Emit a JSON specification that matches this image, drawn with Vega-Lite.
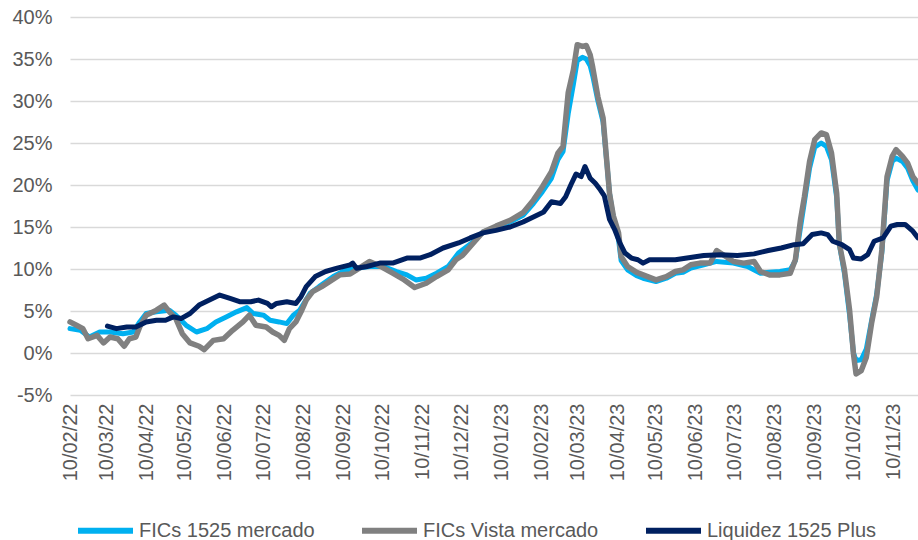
{
  "$schema": "https://vega.github.io/schema/vega-lite/v6.json",
  "width": 848,
  "height": 378,
  "autosize": {"type": "none"},
  "padding": {"left": 70, "top": 17, "right": 0, "bottom": 145},
  "background": "white",
  "config": {
    "view": {"stroke": null},
    "font": "Liberation Sans",
    "axis": {"labelFont": "Liberation Sans", "labelColor": "#595959", "labelFontSize": 20}
  },
  "datasets": {
    "a": [
      {"date": "2022-02-10", "series": "FICs 1525 mercado", "value": 2.9},
      {"date": "2022-02-18", "series": "FICs 1525 mercado", "value": 2.7},
      {"date": "2022-02-25", "series": "FICs 1525 mercado", "value": 1.9},
      {"date": "2022-03-05", "series": "FICs 1525 mercado", "value": 2.5},
      {"date": "2022-03-13", "series": "FICs 1525 mercado", "value": 2.5},
      {"date": "2022-03-23", "series": "FICs 1525 mercado", "value": 2.3},
      {"date": "2022-03-31", "series": "FICs 1525 mercado", "value": 2.5},
      {"date": "2022-04-05", "series": "FICs 1525 mercado", "value": 3.7},
      {"date": "2022-04-10", "series": "FICs 1525 mercado", "value": 4.7},
      {"date": "2022-04-18", "series": "FICs 1525 mercado", "value": 4.9},
      {"date": "2022-04-28", "series": "FICs 1525 mercado", "value": 5.1},
      {"date": "2022-05-03", "series": "FICs 1525 mercado", "value": 4.5},
      {"date": "2022-05-11", "series": "FICs 1525 mercado", "value": 3.3},
      {"date": "2022-05-19", "series": "FICs 1525 mercado", "value": 2.5},
      {"date": "2022-05-27", "series": "FICs 1525 mercado", "value": 2.9},
      {"date": "2022-06-03", "series": "FICs 1525 mercado", "value": 3.7},
      {"date": "2022-06-11", "series": "FICs 1525 mercado", "value": 4.3},
      {"date": "2022-06-19", "series": "FICs 1525 mercado", "value": 4.9},
      {"date": "2022-06-27", "series": "FICs 1525 mercado", "value": 5.4},
      {"date": "2022-07-02", "series": "FICs 1525 mercado", "value": 4.7},
      {"date": "2022-07-10", "series": "FICs 1525 mercado", "value": 4.5},
      {"date": "2022-07-15", "series": "FICs 1525 mercado", "value": 3.9},
      {"date": "2022-07-22", "series": "FICs 1525 mercado", "value": 3.7},
      {"date": "2022-07-28", "series": "FICs 1525 mercado", "value": 3.5},
      {"date": "2022-08-02", "series": "FICs 1525 mercado", "value": 4.5},
      {"date": "2022-08-07", "series": "FICs 1525 mercado", "value": 5.1},
      {"date": "2022-08-15", "series": "FICs 1525 mercado", "value": 7.1},
      {"date": "2022-08-22", "series": "FICs 1525 mercado", "value": 7.9},
      {"date": "2022-09-02", "series": "FICs 1525 mercado", "value": 9.1},
      {"date": "2022-09-12", "series": "FICs 1525 mercado", "value": 9.9},
      {"date": "2022-09-20", "series": "FICs 1525 mercado", "value": 10.1},
      {"date": "2022-09-30", "series": "FICs 1525 mercado", "value": 10.3},
      {"date": "2022-10-11", "series": "FICs 1525 mercado", "value": 10.3},
      {"date": "2022-10-21", "series": "FICs 1525 mercado", "value": 9.7},
      {"date": "2022-10-29", "series": "FICs 1525 mercado", "value": 9.3},
      {"date": "2022-11-05", "series": "FICs 1525 mercado", "value": 8.7},
      {"date": "2022-11-13", "series": "FICs 1525 mercado", "value": 8.9},
      {"date": "2022-11-21", "series": "FICs 1525 mercado", "value": 9.5},
      {"date": "2022-11-30", "series": "FICs 1525 mercado", "value": 10.3},
      {"date": "2022-12-08", "series": "FICs 1525 mercado", "value": 11.9},
      {"date": "2022-12-19", "series": "FICs 1525 mercado", "value": 13.2},
      {"date": "2022-12-27", "series": "FICs 1525 mercado", "value": 14.4},
      {"date": "2023-01-06", "series": "FICs 1525 mercado", "value": 15.0},
      {"date": "2023-01-17", "series": "FICs 1525 mercado", "value": 15.6},
      {"date": "2023-01-27", "series": "FICs 1525 mercado", "value": 16.4},
      {"date": "2023-02-04", "series": "FICs 1525 mercado", "value": 17.8},
      {"date": "2023-02-11", "series": "FICs 1525 mercado", "value": 19.2},
      {"date": "2023-02-18", "series": "FICs 1525 mercado", "value": 20.8},
      {"date": "2023-02-23", "series": "FICs 1525 mercado", "value": 23.0},
      {"date": "2023-02-27", "series": "FICs 1525 mercado", "value": 24.0},
      {"date": "2023-03-03", "series": "FICs 1525 mercado", "value": 28.5},
      {"date": "2023-03-07", "series": "FICs 1525 mercado", "value": 32.0},
      {"date": "2023-03-10", "series": "FICs 1525 mercado", "value": 34.8},
      {"date": "2023-03-14", "series": "FICs 1525 mercado", "value": 35.2},
      {"date": "2023-03-17", "series": "FICs 1525 mercado", "value": 35.0},
      {"date": "2023-03-20", "series": "FICs 1525 mercado", "value": 34.2},
      {"date": "2023-03-22", "series": "FICs 1525 mercado", "value": 33.0},
      {"date": "2023-03-26", "series": "FICs 1525 mercado", "value": 30.0},
      {"date": "2023-03-30", "series": "FICs 1525 mercado", "value": 27.5},
      {"date": "2023-04-02", "series": "FICs 1525 mercado", "value": 22.5},
      {"date": "2023-04-04", "series": "FICs 1525 mercado", "value": 19.0},
      {"date": "2023-04-07", "series": "FICs 1525 mercado", "value": 16.0},
      {"date": "2023-04-11", "series": "FICs 1525 mercado", "value": 13.5},
      {"date": "2023-04-13", "series": "FICs 1525 mercado", "value": 11.0},
      {"date": "2023-04-18", "series": "FICs 1525 mercado", "value": 9.9},
      {"date": "2023-04-25", "series": "FICs 1525 mercado", "value": 9.2},
      {"date": "2023-04-30", "series": "FICs 1525 mercado", "value": 8.9},
      {"date": "2023-05-10", "series": "FICs 1525 mercado", "value": 8.5},
      {"date": "2023-05-18", "series": "FICs 1525 mercado", "value": 8.9},
      {"date": "2023-05-25", "series": "FICs 1525 mercado", "value": 9.5},
      {"date": "2023-05-31", "series": "FICs 1525 mercado", "value": 9.6},
      {"date": "2023-06-06", "series": "FICs 1525 mercado", "value": 10.1},
      {"date": "2023-06-16", "series": "FICs 1525 mercado", "value": 10.5},
      {"date": "2023-06-26", "series": "FICs 1525 mercado", "value": 10.9},
      {"date": "2023-07-09", "series": "FICs 1525 mercado", "value": 10.7},
      {"date": "2023-07-20", "series": "FICs 1525 mercado", "value": 10.3},
      {"date": "2023-07-30", "series": "FICs 1525 mercado", "value": 9.5},
      {"date": "2023-08-06", "series": "FICs 1525 mercado", "value": 9.6},
      {"date": "2023-08-14", "series": "FICs 1525 mercado", "value": 9.7},
      {"date": "2023-08-22", "series": "FICs 1525 mercado", "value": 9.9},
      {"date": "2023-08-26", "series": "FICs 1525 mercado", "value": 11.0},
      {"date": "2023-08-30", "series": "FICs 1525 mercado", "value": 15.0},
      {"date": "2023-09-02", "series": "FICs 1525 mercado", "value": 18.0},
      {"date": "2023-09-06", "series": "FICs 1525 mercado", "value": 22.0},
      {"date": "2023-09-10", "series": "FICs 1525 mercado", "value": 24.5},
      {"date": "2023-09-15", "series": "FICs 1525 mercado", "value": 25.0},
      {"date": "2023-09-19", "series": "FICs 1525 mercado", "value": 24.6},
      {"date": "2023-09-23", "series": "FICs 1525 mercado", "value": 23.0},
      {"date": "2023-09-27", "series": "FICs 1525 mercado", "value": 18.5},
      {"date": "2023-09-29", "series": "FICs 1525 mercado", "value": 13.0},
      {"date": "2023-10-03", "series": "FICs 1525 mercado", "value": 9.5},
      {"date": "2023-10-07", "series": "FICs 1525 mercado", "value": 4.5},
      {"date": "2023-10-10", "series": "FICs 1525 mercado", "value": 0.0},
      {"date": "2023-10-12", "series": "FICs 1525 mercado", "value": -0.9},
      {"date": "2023-10-16", "series": "FICs 1525 mercado", "value": -0.8},
      {"date": "2023-10-20", "series": "FICs 1525 mercado", "value": 0.5},
      {"date": "2023-10-24", "series": "FICs 1525 mercado", "value": 3.8},
      {"date": "2023-10-28", "series": "FICs 1525 mercado", "value": 7.0},
      {"date": "2023-11-01", "series": "FICs 1525 mercado", "value": 12.0},
      {"date": "2023-11-05", "series": "FICs 1525 mercado", "value": 20.5},
      {"date": "2023-11-09", "series": "FICs 1525 mercado", "value": 22.8},
      {"date": "2023-11-12", "series": "FICs 1525 mercado", "value": 23.2},
      {"date": "2023-11-17", "series": "FICs 1525 mercado", "value": 22.8},
      {"date": "2023-11-21", "series": "FICs 1525 mercado", "value": 22.0},
      {"date": "2023-11-25", "series": "FICs 1525 mercado", "value": 20.5},
      {"date": "2023-11-29", "series": "FICs 1525 mercado", "value": 19.4},

      {"date": "2022-02-10", "series": "FICs Vista mercado", "value": 3.7},
      {"date": "2022-02-15", "series": "FICs Vista mercado", "value": 3.3},
      {"date": "2022-02-20", "series": "FICs Vista mercado", "value": 2.9},
      {"date": "2022-02-24", "series": "FICs Vista mercado", "value": 1.7},
      {"date": "2022-03-03", "series": "FICs Vista mercado", "value": 2.1},
      {"date": "2022-03-08", "series": "FICs Vista mercado", "value": 1.2},
      {"date": "2022-03-13", "series": "FICs Vista mercado", "value": 1.9},
      {"date": "2022-03-19", "series": "FICs Vista mercado", "value": 1.7},
      {"date": "2022-03-24", "series": "FICs Vista mercado", "value": 0.8},
      {"date": "2022-03-28", "series": "FICs Vista mercado", "value": 1.7},
      {"date": "2022-04-02", "series": "FICs Vista mercado", "value": 1.9},
      {"date": "2022-04-05", "series": "FICs Vista mercado", "value": 3.1},
      {"date": "2022-04-10", "series": "FICs Vista mercado", "value": 4.5},
      {"date": "2022-04-18", "series": "FICs Vista mercado", "value": 5.1},
      {"date": "2022-04-24", "series": "FICs Vista mercado", "value": 5.7},
      {"date": "2022-04-28", "series": "FICs Vista mercado", "value": 4.9},
      {"date": "2022-05-03", "series": "FICs Vista mercado", "value": 4.1},
      {"date": "2022-05-08", "series": "FICs Vista mercado", "value": 2.3},
      {"date": "2022-05-14", "series": "FICs Vista mercado", "value": 1.2},
      {"date": "2022-05-21", "series": "FICs Vista mercado", "value": 0.8},
      {"date": "2022-05-25", "series": "FICs Vista mercado", "value": 0.4},
      {"date": "2022-06-01", "series": "FICs Vista mercado", "value": 1.5},
      {"date": "2022-06-09", "series": "FICs Vista mercado", "value": 1.7},
      {"date": "2022-06-16", "series": "FICs Vista mercado", "value": 2.7},
      {"date": "2022-06-24", "series": "FICs Vista mercado", "value": 3.7},
      {"date": "2022-06-29", "series": "FICs Vista mercado", "value": 4.5},
      {"date": "2022-07-04", "series": "FICs Vista mercado", "value": 3.3},
      {"date": "2022-07-12", "series": "FICs Vista mercado", "value": 3.1},
      {"date": "2022-07-17", "series": "FICs Vista mercado", "value": 2.5},
      {"date": "2022-07-22", "series": "FICs Vista mercado", "value": 2.1},
      {"date": "2022-07-26", "series": "FICs Vista mercado", "value": 1.5},
      {"date": "2022-07-30", "series": "FICs Vista mercado", "value": 2.9},
      {"date": "2022-08-04", "series": "FICs Vista mercado", "value": 3.7},
      {"date": "2022-08-08", "series": "FICs Vista mercado", "value": 4.9},
      {"date": "2022-08-12", "series": "FICs Vista mercado", "value": 6.3},
      {"date": "2022-08-17", "series": "FICs Vista mercado", "value": 7.3},
      {"date": "2022-08-24", "series": "FICs Vista mercado", "value": 7.9},
      {"date": "2022-08-30", "series": "FICs Vista mercado", "value": 8.5},
      {"date": "2022-09-07", "series": "FICs Vista mercado", "value": 9.3},
      {"date": "2022-09-15", "series": "FICs Vista mercado", "value": 9.4},
      {"date": "2022-09-20", "series": "FICs Vista mercado", "value": 9.9},
      {"date": "2022-09-30", "series": "FICs Vista mercado", "value": 10.9},
      {"date": "2022-10-10", "series": "FICs Vista mercado", "value": 10.2},
      {"date": "2022-10-18", "series": "FICs Vista mercado", "value": 9.5},
      {"date": "2022-10-26", "series": "FICs Vista mercado", "value": 8.8},
      {"date": "2022-11-04", "series": "FICs Vista mercado", "value": 7.8},
      {"date": "2022-11-13", "series": "FICs Vista mercado", "value": 8.3},
      {"date": "2022-11-21", "series": "FICs Vista mercado", "value": 9.1},
      {"date": "2022-11-30", "series": "FICs Vista mercado", "value": 9.9},
      {"date": "2022-12-06", "series": "FICs Vista mercado", "value": 11.1},
      {"date": "2022-12-11", "series": "FICs Vista mercado", "value": 11.6},
      {"date": "2022-12-19", "series": "FICs Vista mercado", "value": 13.0},
      {"date": "2022-12-27", "series": "FICs Vista mercado", "value": 14.4},
      {"date": "2023-01-06", "series": "FICs Vista mercado", "value": 15.1},
      {"date": "2023-01-17", "series": "FICs Vista mercado", "value": 15.8},
      {"date": "2023-01-27", "series": "FICs Vista mercado", "value": 16.7},
      {"date": "2023-02-04", "series": "FICs Vista mercado", "value": 18.2},
      {"date": "2023-02-11", "series": "FICs Vista mercado", "value": 19.8},
      {"date": "2023-02-18", "series": "FICs Vista mercado", "value": 21.6},
      {"date": "2023-02-23", "series": "FICs Vista mercado", "value": 23.8},
      {"date": "2023-02-27", "series": "FICs Vista mercado", "value": 24.6},
      {"date": "2023-03-03", "series": "FICs Vista mercado", "value": 31.0},
      {"date": "2023-03-07", "series": "FICs Vista mercado", "value": 33.7},
      {"date": "2023-03-10", "series": "FICs Vista mercado", "value": 36.7},
      {"date": "2023-03-14", "series": "FICs Vista mercado", "value": 36.5},
      {"date": "2023-03-17", "series": "FICs Vista mercado", "value": 36.6},
      {"date": "2023-03-20", "series": "FICs Vista mercado", "value": 35.5},
      {"date": "2023-03-22", "series": "FICs Vista mercado", "value": 34.0},
      {"date": "2023-03-26", "series": "FICs Vista mercado", "value": 30.5},
      {"date": "2023-03-30", "series": "FICs Vista mercado", "value": 28.0},
      {"date": "2023-04-02", "series": "FICs Vista mercado", "value": 22.6},
      {"date": "2023-04-04", "series": "FICs Vista mercado", "value": 19.0},
      {"date": "2023-04-07", "series": "FICs Vista mercado", "value": 16.3},
      {"date": "2023-04-11", "series": "FICs Vista mercado", "value": 14.3},
      {"date": "2023-04-13", "series": "FICs Vista mercado", "value": 11.5},
      {"date": "2023-04-18", "series": "FICs Vista mercado", "value": 10.3},
      {"date": "2023-04-25", "series": "FICs Vista mercado", "value": 9.6},
      {"date": "2023-04-30", "series": "FICs Vista mercado", "value": 9.3},
      {"date": "2023-05-10", "series": "FICs Vista mercado", "value": 8.7},
      {"date": "2023-05-18", "series": "FICs Vista mercado", "value": 9.1},
      {"date": "2023-05-25", "series": "FICs Vista mercado", "value": 9.7},
      {"date": "2023-05-31", "series": "FICs Vista mercado", "value": 9.9},
      {"date": "2023-06-06", "series": "FICs Vista mercado", "value": 10.5},
      {"date": "2023-06-13", "series": "FICs Vista mercado", "value": 10.7},
      {"date": "2023-06-21", "series": "FICs Vista mercado", "value": 10.7},
      {"date": "2023-06-26", "series": "FICs Vista mercado", "value": 12.2},
      {"date": "2023-07-01", "series": "FICs Vista mercado", "value": 11.7},
      {"date": "2023-07-09", "series": "FICs Vista mercado", "value": 10.9},
      {"date": "2023-07-17", "series": "FICs Vista mercado", "value": 10.7},
      {"date": "2023-07-25", "series": "FICs Vista mercado", "value": 10.9},
      {"date": "2023-07-30", "series": "FICs Vista mercado", "value": 9.7},
      {"date": "2023-08-06", "series": "FICs Vista mercado", "value": 9.3},
      {"date": "2023-08-14", "series": "FICs Vista mercado", "value": 9.3},
      {"date": "2023-08-22", "series": "FICs Vista mercado", "value": 9.5},
      {"date": "2023-08-26", "series": "FICs Vista mercado", "value": 11.1},
      {"date": "2023-08-30", "series": "FICs Vista mercado", "value": 15.9},
      {"date": "2023-09-02", "series": "FICs Vista mercado", "value": 18.6},
      {"date": "2023-09-06", "series": "FICs Vista mercado", "value": 22.8},
      {"date": "2023-09-10", "series": "FICs Vista mercado", "value": 25.4},
      {"date": "2023-09-15", "series": "FICs Vista mercado", "value": 26.2},
      {"date": "2023-09-19", "series": "FICs Vista mercado", "value": 26.0},
      {"date": "2023-09-23", "series": "FICs Vista mercado", "value": 23.8},
      {"date": "2023-09-27", "series": "FICs Vista mercado", "value": 19.0},
      {"date": "2023-09-29", "series": "FICs Vista mercado", "value": 13.1},
      {"date": "2023-10-03", "series": "FICs Vista mercado", "value": 9.9},
      {"date": "2023-10-07", "series": "FICs Vista mercado", "value": 5.1},
      {"date": "2023-10-10", "series": "FICs Vista mercado", "value": -0.1},
      {"date": "2023-10-12", "series": "FICs Vista mercado", "value": -2.5},
      {"date": "2023-10-16", "series": "FICs Vista mercado", "value": -2.1},
      {"date": "2023-10-20", "series": "FICs Vista mercado", "value": -0.5},
      {"date": "2023-10-24", "series": "FICs Vista mercado", "value": 3.5},
      {"date": "2023-10-28", "series": "FICs Vista mercado", "value": 6.7},
      {"date": "2023-11-01", "series": "FICs Vista mercado", "value": 12.3},
      {"date": "2023-11-05", "series": "FICs Vista mercado", "value": 21.0},
      {"date": "2023-11-09", "series": "FICs Vista mercado", "value": 23.4},
      {"date": "2023-11-12", "series": "FICs Vista mercado", "value": 24.2},
      {"date": "2023-11-17", "series": "FICs Vista mercado", "value": 23.4},
      {"date": "2023-11-21", "series": "FICs Vista mercado", "value": 22.6},
      {"date": "2023-11-25", "series": "FICs Vista mercado", "value": 21.0},
      {"date": "2023-11-29", "series": "FICs Vista mercado", "value": 20.2},

      {"date": "2022-03-11", "series": "Liquidez 1525 Plus", "value": 3.2},
      {"date": "2022-03-18", "series": "Liquidez 1525 Plus", "value": 2.9},
      {"date": "2022-03-26", "series": "Liquidez 1525 Plus", "value": 3.1},
      {"date": "2022-04-02", "series": "Liquidez 1525 Plus", "value": 3.1},
      {"date": "2022-04-10", "series": "Liquidez 1525 Plus", "value": 3.7},
      {"date": "2022-04-18", "series": "Liquidez 1525 Plus", "value": 3.9},
      {"date": "2022-04-25", "series": "Liquidez 1525 Plus", "value": 3.9},
      {"date": "2022-05-01", "series": "Liquidez 1525 Plus", "value": 4.3},
      {"date": "2022-05-07", "series": "Liquidez 1525 Plus", "value": 4.1},
      {"date": "2022-05-14", "series": "Liquidez 1525 Plus", "value": 4.7},
      {"date": "2022-05-21", "series": "Liquidez 1525 Plus", "value": 5.7},
      {"date": "2022-05-29", "series": "Liquidez 1525 Plus", "value": 6.3},
      {"date": "2022-06-06", "series": "Liquidez 1525 Plus", "value": 6.9},
      {"date": "2022-06-14", "series": "Liquidez 1525 Plus", "value": 6.5},
      {"date": "2022-06-22", "series": "Liquidez 1525 Plus", "value": 6.1},
      {"date": "2022-06-30", "series": "Liquidez 1525 Plus", "value": 6.1},
      {"date": "2022-07-06", "series": "Liquidez 1525 Plus", "value": 6.3},
      {"date": "2022-07-13", "series": "Liquidez 1525 Plus", "value": 5.9},
      {"date": "2022-07-16", "series": "Liquidez 1525 Plus", "value": 5.5},
      {"date": "2022-07-20", "series": "Liquidez 1525 Plus", "value": 5.9},
      {"date": "2022-07-28", "series": "Liquidez 1525 Plus", "value": 6.1},
      {"date": "2022-08-04", "series": "Liquidez 1525 Plus", "value": 5.9},
      {"date": "2022-08-08", "series": "Liquidez 1525 Plus", "value": 6.7},
      {"date": "2022-08-12", "series": "Liquidez 1525 Plus", "value": 7.9},
      {"date": "2022-08-19", "series": "Liquidez 1525 Plus", "value": 9.1},
      {"date": "2022-08-27", "series": "Liquidez 1525 Plus", "value": 9.7},
      {"date": "2022-09-05", "series": "Liquidez 1525 Plus", "value": 10.1},
      {"date": "2022-09-15", "series": "Liquidez 1525 Plus", "value": 10.5},
      {"date": "2022-09-17", "series": "Liquidez 1525 Plus", "value": 10.7},
      {"date": "2022-09-20", "series": "Liquidez 1525 Plus", "value": 10.1},
      {"date": "2022-09-28", "series": "Liquidez 1525 Plus", "value": 10.3},
      {"date": "2022-10-08", "series": "Liquidez 1525 Plus", "value": 10.7},
      {"date": "2022-10-18", "series": "Liquidez 1525 Plus", "value": 10.7},
      {"date": "2022-10-29", "series": "Liquidez 1525 Plus", "value": 11.3},
      {"date": "2022-11-08", "series": "Liquidez 1525 Plus", "value": 11.3},
      {"date": "2022-11-16", "series": "Liquidez 1525 Plus", "value": 11.7},
      {"date": "2022-11-26", "series": "Liquidez 1525 Plus", "value": 12.5},
      {"date": "2022-12-08", "series": "Liquidez 1525 Plus", "value": 13.1},
      {"date": "2022-12-17", "series": "Liquidez 1525 Plus", "value": 13.7},
      {"date": "2022-12-27", "series": "Liquidez 1525 Plus", "value": 14.3},
      {"date": "2023-01-06", "series": "Liquidez 1525 Plus", "value": 14.6},
      {"date": "2023-01-17", "series": "Liquidez 1525 Plus", "value": 15.0},
      {"date": "2023-01-27", "series": "Liquidez 1525 Plus", "value": 15.6},
      {"date": "2023-02-04", "series": "Liquidez 1525 Plus", "value": 16.2},
      {"date": "2023-02-12", "series": "Liquidez 1525 Plus", "value": 16.8},
      {"date": "2023-02-18", "series": "Liquidez 1525 Plus", "value": 18.0},
      {"date": "2023-02-25", "series": "Liquidez 1525 Plus", "value": 17.8},
      {"date": "2023-03-01", "series": "Liquidez 1525 Plus", "value": 18.6},
      {"date": "2023-03-05", "series": "Liquidez 1525 Plus", "value": 20.0},
      {"date": "2023-03-09", "series": "Liquidez 1525 Plus", "value": 21.3},
      {"date": "2023-03-13", "series": "Liquidez 1525 Plus", "value": 21.0},
      {"date": "2023-03-16", "series": "Liquidez 1525 Plus", "value": 22.2},
      {"date": "2023-03-20", "series": "Liquidez 1525 Plus", "value": 20.8},
      {"date": "2023-03-24", "series": "Liquidez 1525 Plus", "value": 20.2},
      {"date": "2023-03-28", "series": "Liquidez 1525 Plus", "value": 19.4},
      {"date": "2023-03-31", "series": "Liquidez 1525 Plus", "value": 18.7},
      {"date": "2023-04-04", "series": "Liquidez 1525 Plus", "value": 15.9},
      {"date": "2023-04-08", "series": "Liquidez 1525 Plus", "value": 14.7},
      {"date": "2023-04-12", "series": "Liquidez 1525 Plus", "value": 13.1},
      {"date": "2023-04-16", "series": "Liquidez 1525 Plus", "value": 11.9},
      {"date": "2023-04-21", "series": "Liquidez 1525 Plus", "value": 11.3},
      {"date": "2023-04-26", "series": "Liquidez 1525 Plus", "value": 11.1},
      {"date": "2023-04-30", "series": "Liquidez 1525 Plus", "value": 10.7},
      {"date": "2023-05-05", "series": "Liquidez 1525 Plus", "value": 11.1},
      {"date": "2023-05-15", "series": "Liquidez 1525 Plus", "value": 11.1},
      {"date": "2023-05-25", "series": "Liquidez 1525 Plus", "value": 11.1},
      {"date": "2023-06-03", "series": "Liquidez 1525 Plus", "value": 11.3},
      {"date": "2023-06-16", "series": "Liquidez 1525 Plus", "value": 11.6},
      {"date": "2023-06-29", "series": "Liquidez 1525 Plus", "value": 11.7},
      {"date": "2023-07-12", "series": "Liquidez 1525 Plus", "value": 11.6},
      {"date": "2023-07-25", "series": "Liquidez 1525 Plus", "value": 11.8},
      {"date": "2023-08-05", "series": "Liquidez 1525 Plus", "value": 12.2},
      {"date": "2023-08-15", "series": "Liquidez 1525 Plus", "value": 12.5},
      {"date": "2023-08-25", "series": "Liquidez 1525 Plus", "value": 12.9},
      {"date": "2023-09-01", "series": "Liquidez 1525 Plus", "value": 13.0},
      {"date": "2023-09-08", "series": "Liquidez 1525 Plus", "value": 14.1},
      {"date": "2023-09-15", "series": "Liquidez 1525 Plus", "value": 14.3},
      {"date": "2023-09-20", "series": "Liquidez 1525 Plus", "value": 14.1},
      {"date": "2023-09-24", "series": "Liquidez 1525 Plus", "value": 13.3},
      {"date": "2023-10-01", "series": "Liquidez 1525 Plus", "value": 12.9},
      {"date": "2023-10-07", "series": "Liquidez 1525 Plus", "value": 12.3},
      {"date": "2023-10-10", "series": "Liquidez 1525 Plus", "value": 11.3},
      {"date": "2023-10-16", "series": "Liquidez 1525 Plus", "value": 11.2},
      {"date": "2023-10-21", "series": "Liquidez 1525 Plus", "value": 11.7},
      {"date": "2023-10-26", "series": "Liquidez 1525 Plus", "value": 13.3},
      {"date": "2023-11-02", "series": "Liquidez 1525 Plus", "value": 13.7},
      {"date": "2023-11-08", "series": "Liquidez 1525 Plus", "value": 15.1},
      {"date": "2023-11-13", "series": "Liquidez 1525 Plus", "value": 15.3},
      {"date": "2023-11-19", "series": "Liquidez 1525 Plus", "value": 15.3},
      {"date": "2023-11-25", "series": "Liquidez 1525 Plus", "value": 14.5},
      {"date": "2023-11-29", "series": "Liquidez 1525 Plus", "value": 13.7}
    ]
  },
  "data": {"name": "a"},
  "encoding": {
    "x": {
      "field": "date",
      "type": "temporal",
      "scale": {
        "type": "utc",
        "domain": [
          {"year": 2022, "month": 2, "date": 10, "utc": true},
          {"year": 2023, "month": 11, "date": 29, "utc": true}
        ]
      },
      "axis": {
        "title": null,
        "grid": false,
        "domain": false,
        "ticks": false,
        "labelAngle": -90,
        "labelAlign": "right",
        "labelBaseline": "middle",
        "labelPadding": 8,
        "labelExpr": "utcFormat(datum.value, '%d/%m/%y')",
        "labelOverlap": false,
        "labelBound": false,
        "labelFlush": false,
        "values": [
          {"year": 2022, "month": 2, "date": 10, "utc": true},
          {"year": 2022, "month": 3, "date": 10, "utc": true},
          {"year": 2022, "month": 4, "date": 10, "utc": true},
          {"year": 2022, "month": 5, "date": 10, "utc": true},
          {"year": 2022, "month": 6, "date": 10, "utc": true},
          {"year": 2022, "month": 7, "date": 10, "utc": true},
          {"year": 2022, "month": 8, "date": 10, "utc": true},
          {"year": 2022, "month": 9, "date": 10, "utc": true},
          {"year": 2022, "month": 10, "date": 10, "utc": true},
          {"year": 2022, "month": 11, "date": 10, "utc": true},
          {"year": 2022, "month": 12, "date": 10, "utc": true},
          {"year": 2023, "month": 1, "date": 10, "utc": true},
          {"year": 2023, "month": 2, "date": 10, "utc": true},
          {"year": 2023, "month": 3, "date": 10, "utc": true},
          {"year": 2023, "month": 4, "date": 10, "utc": true},
          {"year": 2023, "month": 5, "date": 10, "utc": true},
          {"year": 2023, "month": 6, "date": 10, "utc": true},
          {"year": 2023, "month": 7, "date": 10, "utc": true},
          {"year": 2023, "month": 8, "date": 10, "utc": true},
          {"year": 2023, "month": 9, "date": 10, "utc": true},
          {"year": 2023, "month": 10, "date": 10, "utc": true},
          {"year": 2023, "month": 11, "date": 10, "utc": true}
        ]
      }
    },
    "y": {
      "field": "value",
      "type": "quantitative",
      "scale": {"domain": [-5, 40], "nice": false, "zero": false},
      "axis": {
        "title": null,
        "values": [-5, 0, 5, 10, 15, 20, 25, 30, 35, 40],
        "labelExpr": "datum.value + '%'",
        "domain": false,
        "ticks": false,
        "labelPadding": 18,
        "grid": true,
        "gridColor": "#d9d9d9",
        "gridWidth": 1.5
      }
    },
    "color": {
      "field": "series",
      "type": "nominal",
      "scale": {
        "domain": ["FICs 1525 mercado", "FICs Vista mercado", "Liquidez 1525 Plus"],
        "range": ["#00B0F0", "#808080", "#002060"]
      },
      "legend": {
        "title": null,
        "orient": "none",
        "direction": "horizontal",
        "legendX": 5,
        "legendY": 483,
        "symbolType": "stroke",
        "symbolSize": 3025,
        "symbolStrokeWidth": 6,
        "labelFontSize": 20,
        "labelFont": "Liberation Sans",
        "labelColor": "#595959",
        "labelOffset": 3,
        "columnPadding": 35,
        "padding": 0,
        "labelLimit": 400
      }
    }
  },
  "layer": [
    {
      "transform": [{"filter": "datum.series === 'FICs 1525 mercado'"}],
      "mark": {"type": "line", "strokeWidth": 5, "strokeJoin": "round", "strokeCap": "round"}
    },
    {
      "transform": [{"filter": "datum.series === 'FICs Vista mercado'"}],
      "mark": {"type": "line", "strokeWidth": 5.5, "strokeJoin": "round", "strokeCap": "round"}
    },
    {
      "transform": [{"filter": "datum.series === 'Liquidez 1525 Plus'"}],
      "mark": {"type": "line", "strokeWidth": 5, "strokeJoin": "round", "strokeCap": "round"}
    }
  ]
}
